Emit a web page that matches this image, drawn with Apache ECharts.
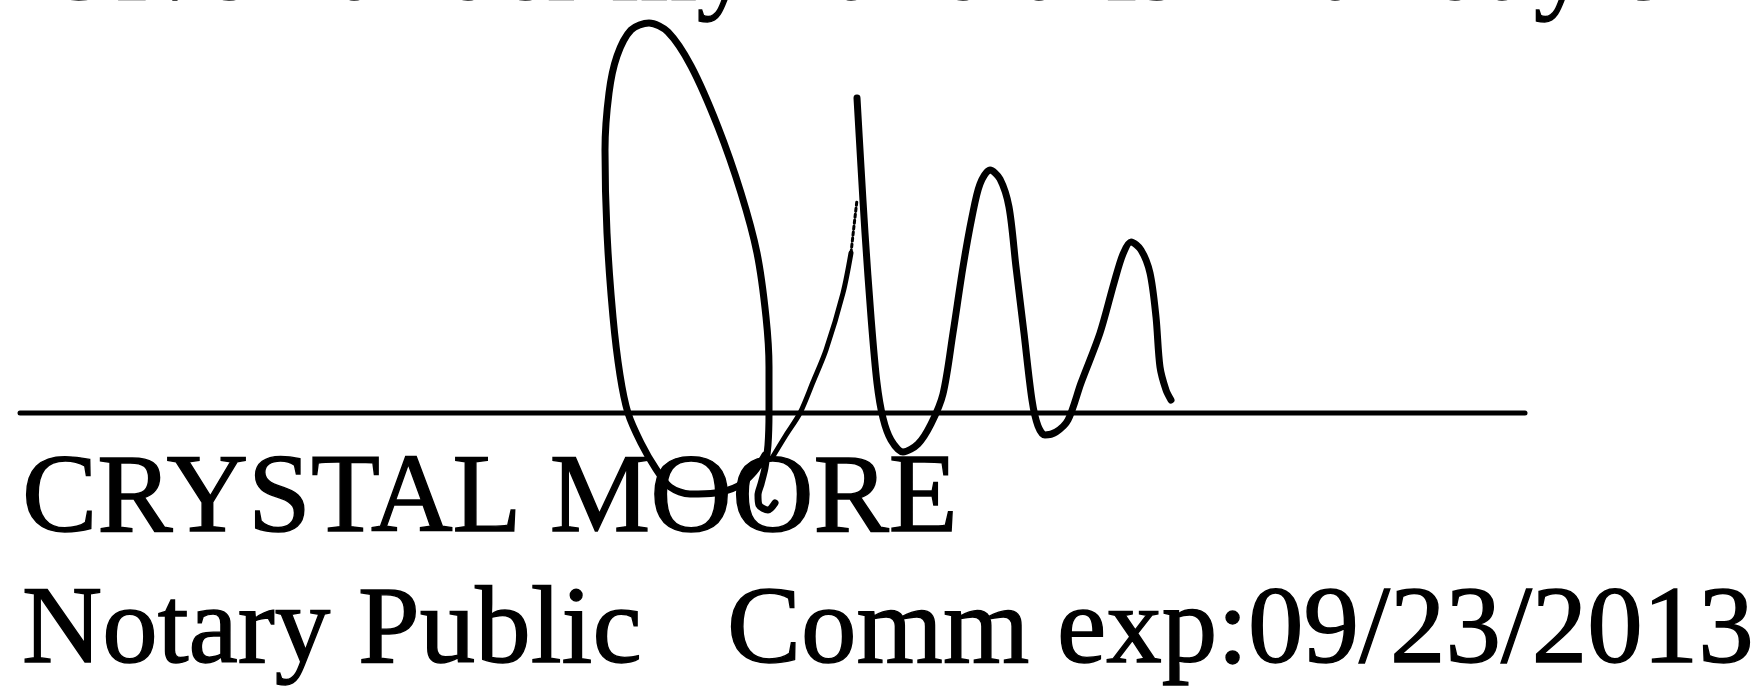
<!DOCTYPE html>
<html>
<head>
<meta charset="utf-8">
<script src="https://cdn.jsdelivr.net/npm/echarts@6/dist/echarts.min.js"></script>
<style>
html,body{margin:0;padding:0;background:#fff;}
#c{width:1764px;height:694px;}
</style>
</head>
<body>
<div id="c"></div>
<script>
// ---- data (page pixel space) ----
const topLine = 'Given under my hand this 14th day of';
const nameLine = 'CRYSTAL MOORE';
const titleLine = 'Notary Public';
const commLine = 'Comm exp:09/23/2013';

const signLine = [[20, 413], [1525, 413]];

const ovalStroke = [
  [775, 503], [768, 510], [759, 505], [758, 495], [761, 484], [765, 468], [768, 445],
  [769, 413], [769, 367], [766, 317], [757, 253], [741, 193], [718, 127], [691, 66],
  [668, 32], [649, 23], [631, 30], [617, 56], [609, 93], [605, 150], [607, 233],
  [613, 317], [620, 375], [628, 413], [641, 443], [656, 469], [670, 487], [690, 494],
  [715, 493], [738, 486], [754, 472], [765, 455]
];
const diagStroke = [
  [772, 458], [786, 435], [800, 413], [813, 382], [826, 350], [843, 293], [851, 253]
];
const diagTail = [[851, 253], [854, 226], [857, 200]];
const waveStroke = [
  [857, 98], [861, 167], [865, 233], [871, 317], [877, 383], [883, 418], [891, 440],
  [903, 452], [918, 444], [931, 424], [943, 394], [953, 333], [963, 267], [972, 217],
  [980, 184], [990, 170], [1000, 179], [1009, 207], [1016, 267], [1024, 333], [1032, 400],
  [1038, 426], [1045, 435], [1056, 432], [1068, 420], [1081, 383], [1100, 333], [1114, 283],
  [1123, 254], [1131, 242], [1141, 250], [1150, 273], [1156, 317], [1160, 367], [1166, 390],
  [1171, 400]
];

const FONT = '"Liberation Serif", "Times New Roman", serif';

function txt(s, x, baseline, fs) {
  return {
    type: 'text', x: x, y: baseline - 0.305 * fs, z: 1,
    style: {
      text: s, font: fs + 'px ' + FONT, fill: '#000',
      stroke: '#000', lineWidth: 1.4,
      verticalAlign: 'middle', align: 'left'
    }
  };
}

const chart = echarts.init(document.getElementById('c'));
const lineStyle = (w, t) => ({ color: '#000', width: w, cap: 'round', join: 'round', type: t || 'solid' });
chart.setOption({
  backgroundColor: '#fff',
  animation: false,
  grid: { left: 0, right: 0, top: 0, bottom: 0 },
  xAxis: { type: 'value', min: 0, max: 1764, show: false },
  yAxis: { type: 'value', min: 0, max: 694, inverse: true, show: false },
  graphic: [
    txt(topLine, 37, 4, 110),
    txt(nameLine, 22, 536, 113),
    txt(titleLine, 22, 667, 111),
    txt(commLine, 727, 667, 111)
  ],
  series: [
    { type: 'line', data: signLine, symbol: 'none', lineStyle: lineStyle(5), z: 3 },
    { type: 'line', data: ovalStroke, symbol: 'none', smooth: 0.3, lineStyle: lineStyle(7), z: 4 },
    { type: 'line', data: diagStroke, symbol: 'none', smooth: 0.3, lineStyle: lineStyle(5), z: 4 },
    { type: 'line', data: diagTail, symbol: 'none', smooth: 0.3, lineStyle: lineStyle(3, 'dotted'), z: 4 },
    { type: 'line', data: waveStroke, symbol: 'none', smooth: 0.3, lineStyle: lineStyle(7), z: 4 }
  ]
});
</script>
</body>
</html>
